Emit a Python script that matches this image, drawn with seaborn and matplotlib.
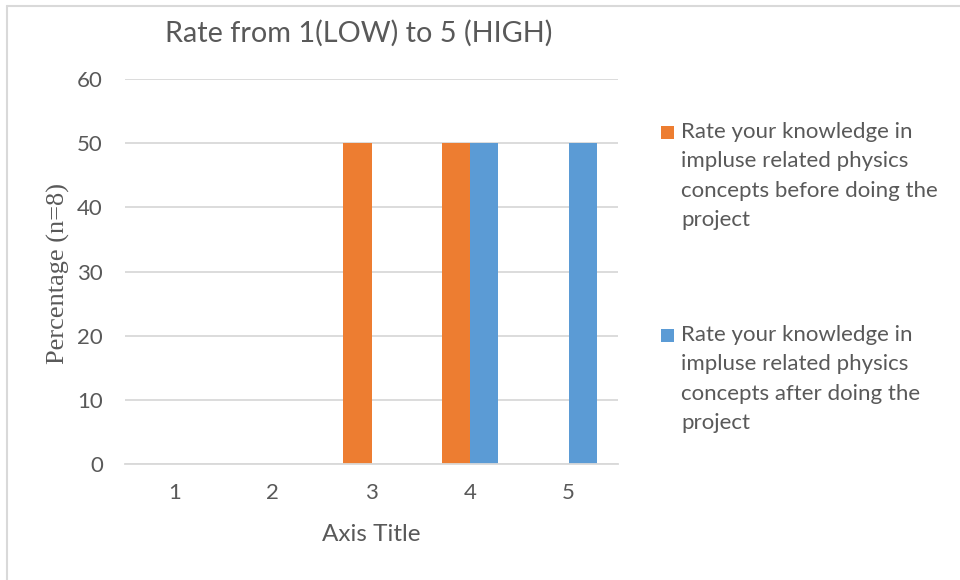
import matplotlib
matplotlib.use("Agg")
import matplotlib.pyplot as plt
from matplotlib.patches import Rectangle
from matplotlib.lines import Line2D
import seaborn as sns
import pandas as pd

# Rating categories and survey results (percent of n=8 respondents)
ratings = ["1", "2", "3", "4", "5"]
before_pct = [0, 0, 50, 50, 0]
after_pct = [0, 0, 0, 50, 50]
series_names = [
    "Rate your knowledge in\nimpluse related physics\nconcepts before doing the\nproject",
    "Rate your knowledge in\nimpluse related physics\nconcepts after doing the\nproject",
]
series_colors = ["#ED7D31", "#5B9BD5"]
y_ticks = [0, 10, 20, 30, 40, 50, 60]

title_text = "Rate from 1(LOW) to 5 (HIGH)"
x_label = "Axis Title"
y_label = "Percentage (n=8)"

df = pd.DataFrame({
    "rating": ratings * 2,
    "pct": before_pct + after_pct,
    "series": [series_names[0]] * len(ratings) + [series_names[1]] * len(ratings),
})

sns.set_theme(style="white")
plt.rcParams["font.family"] = ["Lato", "DejaVu Sans"]
text_color = "#595959"
grid_color = "#D9D9D9"

W, H = 960, 580
fig = plt.figure(figsize=(9.6, 5.8), dpi=100)
fig.patch.set_facecolor("white")

# plot area in pixel coordinates
left, right, top, bottom = 125, 618, 79, 464
ax = fig.add_axes([left / W, 1 - bottom / H, (right - left) / W, (bottom - top) / H])

sns.barplot(data=df, x="rating", y="pct", hue="series", order=ratings,
            hue_order=series_names, palette=series_colors, width=0.57, gap=0,
            linewidth=0, saturation=1, legend=False, ax=ax)

ax.set_xlim(-0.5, len(ratings) - 0.5)
ax.set_ylim(0, 60)
ax.set_yticks(y_ticks)
ax.set_yticklabels([str(v) for v in y_ticks])
ax.yaxis.grid(True, color=grid_color, linewidth=1.3)
ax.set_axisbelow(True)
for side in ["left", "right", "top"]:
    ax.spines[side].set_visible(False)
ax.spines["bottom"].set_color(grid_color)
ax.spines["bottom"].set_linewidth(1.3)
ax.tick_params(axis="both", length=0, labelsize=16, labelcolor=text_color)
ax.tick_params(axis="y", pad=16)
ax.tick_params(axis="x", pad=14)

ax.set_xlabel(x_label, fontsize=17.5, color=text_color, labelpad=15)
ax.set_ylabel(y_label, fontsize=19, color=text_color,
              family=["Liberation Serif", "DejaVu Serif"])
ax.yaxis.set_label_coords((58 - left) / (right - left), 0.495)
ax.yaxis.label.set_va("center")

fig.text(359 / W, 1 - 33 / H, title_text, fontsize=20.8, color=text_color,
         ha="center", va="center")

# legend: colored square beside the first line of each wrapped label
legend_first_line_y = [133, 336]
for name, color, yc in zip(series_names, series_colors, legend_first_line_y):
    fig.patches.append(Rectangle((661 / W, 1 - (yc + 6) / H), 13 / W, 13 / H,
                                 transform=fig.transFigure, facecolor=color,
                                 edgecolor="none"))
    fig.text(681 / W, 1 - (yc - 11) / H, name, fontsize=16, color=text_color,
             ha="left", va="top", linespacing=1.59)

# chart border
fig.add_artist(Line2D([6.5 / W, 1], [1 - 6 / H, 1 - 6 / H], transform=fig.transFigure,
                      color=grid_color, linewidth=1.5))
fig.add_artist(Line2D([6.5 / W, 6.5 / W], [0, 1 - 6 / H], transform=fig.transFigure,
                      color=grid_color, linewidth=1.5))

fig.savefig("out.png", dpi=100)
